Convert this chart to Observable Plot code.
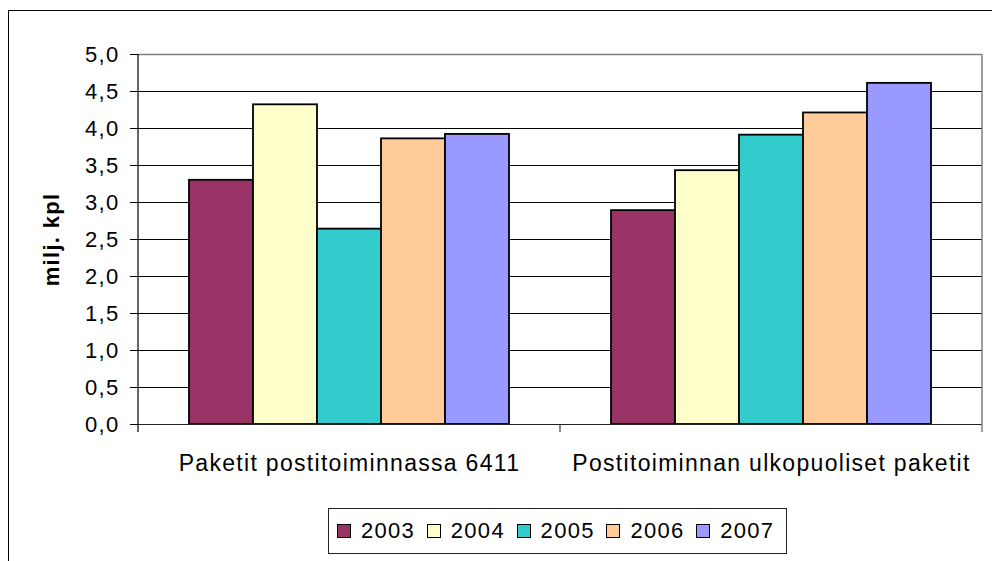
<!DOCTYPE html>
<html>
<head>
<meta charset="utf-8">
<script src="https://cdn.jsdelivr.net/npm/d3@7"></script>
<script src="https://cdn.jsdelivr.net/npm/@observablehq/plot@0.6"></script>
<style>
  html, body { margin: 0; padding: 0; background: #fff; }
  #wrap { position: relative; width: 992px; height: 561px; overflow: hidden; font-family: "Liberation Sans", Arial, sans-serif; }
  #frame { position: absolute; left: 8px; top: 10px; width: 1100px; height: 700px; border: 1px solid #000; box-sizing: border-box; pointer-events: none; }
  #chart { position: absolute; left: 0; top: 0; }
  #legend { position: absolute; left: 328px; top: 508px; width: 459px; height: 46px; border: 1px solid #222; box-sizing: border-box; display: flex; align-items: center; padding-left: 8px; background: #fff; }
  .item { display: flex; align-items: center; width: 90px; }
  .sw { width: 14px; height: 14px; border: 1.5px solid #000; box-sizing: border-box; margin-right: 10px; }
  .lab { font-size: 22px; letter-spacing: 1.3px; color: #000; }
</style>
</head>
<body>
<div id="wrap">
  <div id="frame"></div>
  <div id="chart"></div>
  <div id="legend"></div>
</div>
<script>
const categories = ["Paketit postitoiminnassa 6411", "Postitoiminnan ulkopuoliset paketit"];
const years = ["2003", "2004", "2005", "2006", "2007"];
const colors = ["#993366", "#FFFFCC", "#33CCCC", "#FFCC99", "#9999FF"];
const values2003 = [3.30, 2.89];
const values2004 = [4.32, 3.43];
const values2005 = [2.64, 3.91];
const values2006 = [3.86, 4.21];
const values2007 = [3.92, 4.61];
const yTicks = [0, 0.5, 1, 1.5, 2, 2.5, 3, 3.5, 4, 4.5, 5];
const yLabel = "milj. kpl";

const series = [values2003, values2004, values2005, values2006, values2007];
const data = [];
categories.forEach((c, i) => {
  years.forEach((yr, j) => data.push({group: c, year: yr, value: series[j][i]}));
});

const fmt = d => d.toFixed(1).replace(".", ",");

const chart = Plot.plot({
  width: 992,
  height: 500,
  marginLeft: 138,
  marginRight: 10,
  marginTop: 54,
  marginBottom: 76,
  style: {fontFamily: "'Liberation Sans', Arial, sans-serif", fontSize: "22px", color: "#000", background: "transparent", overflow: "visible"},
  fx: {domain: categories, padding: 0, label: null},
  x: {domain: years, paddingInner: 0, paddingOuter: 0.756, axis: null},
  y: {domain: [0, 5], label: yLabel},
  color: {domain: years, range: colors},
  marks: [
    Plot.gridY(yTicks, {stroke: "#000", strokeOpacity: 1, strokeWidth: 1}),
    Plot.ruleY([5], {stroke: "#808080", strokeWidth: 1.5}),
    Plot.barY(data, {fx: "group", x: "year", y: "value", fill: "year", stroke: "#000", strokeWidth: 1.8}),
    Plot.ruleY([0], {stroke: "#222", strokeWidth: 1.2}),
    Plot.axisY({ticks: yTicks, tickSize: 8, tickPadding: 11, tickFormat: fmt, fontSize: 22, label: yLabel, labelAnchor: "center", labelOffset: 95, labelArrow: "none"}),
    Plot.axisFx({anchor: "bottom", tickSize: 0, tickPadding: 30, fontSize: 23, label: null})
  ]
});

chart.setAttribute("id", "svgchart");
document.getElementById("chart").appendChild(chart);

const svg = d3.select(chart);
svg.selectAll("text").style("letter-spacing", "1.3px");
svg.selectAll('g[aria-label="y-axis label"] text').style("font-weight", "bold").style("font-size", "22px");

// Plot area edges derived from the library's scales
const fx = chart.scale("fx");
const y = chart.scale("y");
const y0 = y.apply(0), y5 = y.apply(5);
const step = (fx.range[1] - fx.range[0]) / categories.length;
const edges = d3.range(categories.length + 1).map(i => fx.range[0] + i * step);
const g = svg.append("g").attr("aria-label", "frame-edges");
g.append("line").attr("x1", edges[0]).attr("x2", edges[0]).attr("y1", y5).attr("y2", y0 + 8).attr("stroke", "#000").attr("stroke-width", 1.2);
g.append("line").attr("x1", edges[edges.length - 1]).attr("x2", edges[edges.length - 1]).attr("y1", y5).attr("y2", y0 + 8).attr("stroke", "#808080").attr("stroke-width", 1.5);
edges.slice(1, -1).forEach(e => {
  g.append("line").attr("x1", e).attr("x2", e).attr("y1", y0).attr("y2", y0 + 8).attr("stroke", "#333").attr("stroke-width", 1.2);
});

const legend = d3.select("#legend");
years.forEach((yr, j) => {
  const it = legend.append("div").attr("class", "item");
  it.append("div").attr("class", "sw").style("background", colors[j]);
  it.append("span").attr("class", "lab").text(yr);
});
</script>
</body>
</html>
